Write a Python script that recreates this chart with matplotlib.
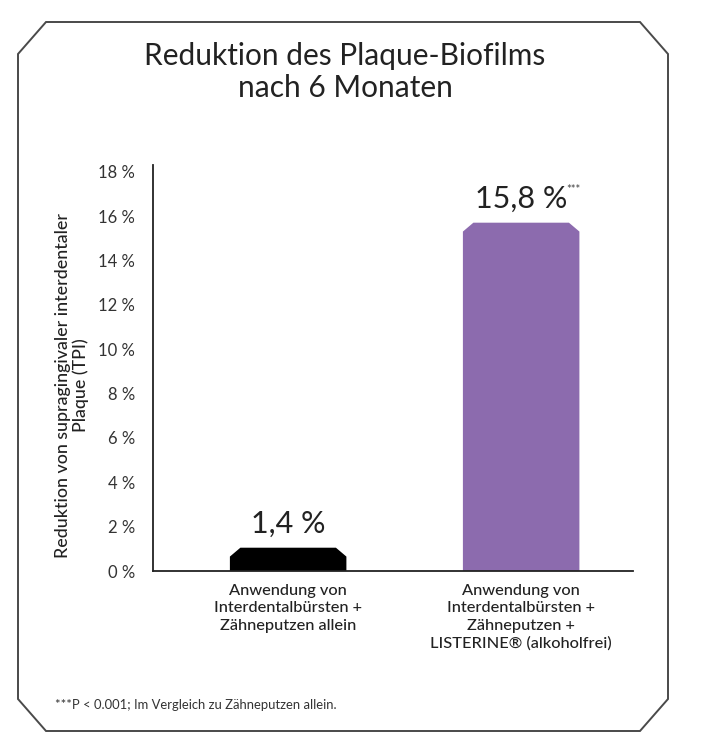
import matplotlib.pyplot as plt
from matplotlib.patches import Polygon

plt.rcParams['font.family'] = ['Lato', 'DejaVu Sans']

# data
kategorien = ["Anwendung von\nInterdentalbürsten +\nZähneputzen allein",
              "Anwendung von\nInterdentalbürsten +\nZähneputzen +\nLISTERINE® (alkoholfrei)"]
hoehen = [1.05, 15.7]          # drawn bar heights in %
werte_text = ["1,4 %", "15,8 %"]
sterne = ["", "***"]
farben = ["#000000", "#8C6BAE"]
y_ticks = [0, 2, 4, 6, 8, 10, 12, 14, 16, 18]

W, H = 702, 750
fig = plt.figure(figsize=(W / 100, H / 100), dpi=100)

# octagonal frame around the whole graphic (pixel coords -> figure coords)
l, r, t, b, cx, cy = 18, 668, 22, 731, 28, 32
rahmen = [(l, t + cy), (l + cx, t), (r - cx, t), (r, t + cy),
          (r, b - cy), (r - cx, b), (l + cx, b), (l, b - cy)]
rahmen = [(x / W, 1 - y / H) for x, y in rahmen]
fig.patches.append(Polygon(rahmen, closed=True, fill=False, edgecolor="#4a4a4a",
                           linewidth=1.4, transform=fig.transFigure))

fig.text(345 / W, 1 - 72 / H, "Reduktion des Plaque-Biofilms\nnach 6 Monaten",
         ha="center", va="center", fontsize=21.5, color="#222222", linespacing=1.2)

ax = fig.add_axes([153 / W, 1 - 571 / H, 480 / W, (571 - 165) / H])
ax.set_xlim(-0.58, 1.48)
ax.set_ylim(0, 18.3)

breite = 0.5
dx, dy = 0.045, 0.4
for i, (h, f) in enumerate(zip(hoehen, farben)):
    x0, x1 = i - breite / 2, i + breite / 2
    pts = [(x0, 0), (x0, h - dy), (x0 + dx, h), (x1 - dx, h), (x1, h - dy), (x1, 0)]
    ax.add_patch(Polygon(pts, closed=True, facecolor=f, edgecolor="none"))
    ax.text(i, h + 0.45, werte_text[i], ha="center", va="bottom",
            fontsize=22, color="#222222")
    if sterne[i]:
        ax.text(i + 0.195, h + 1.5, sterne[i], ha="left", va="center",
                fontsize=8, color="#444444")

for s in ["top", "right"]:
    ax.spines[s].set_visible(False)
ax.spines["left"].set_color("#222222")
ax.spines["bottom"].set_color("#222222")
ax.spines["left"].set_linewidth(1.3)
ax.spines["bottom"].set_linewidth(1.3)

ax.set_yticks(y_ticks)
ax.set_yticklabels([f"{v} %" for v in y_ticks], fontsize=12, color="#333333")
ax.tick_params(axis="y", length=0, pad=13)
ax.set_xticks(range(len(kategorien)))
ax.set_xticklabels(kategorien, fontsize=11.8, color="#222222", linespacing=1.32,
                   fontweight="medium")
ax.tick_params(axis="x", length=0, pad=9)

ax.set_ylabel("Reduktion von supragingivaler interdentaler\nPlaque (TPI)",
              fontsize=12.8, color="#222222", fontweight="medium", linespacing=1.15)
ax.yaxis.set_label_coords(-0.133, 0.458)

fig.text(55 / W, 1 - 705 / H, "***P < 0.001; Im Vergleich zu Zähneputzen allein.",
         ha="left", va="center", fontsize=9.4, color="#333333")

fig.savefig("out.png", dpi=100)
